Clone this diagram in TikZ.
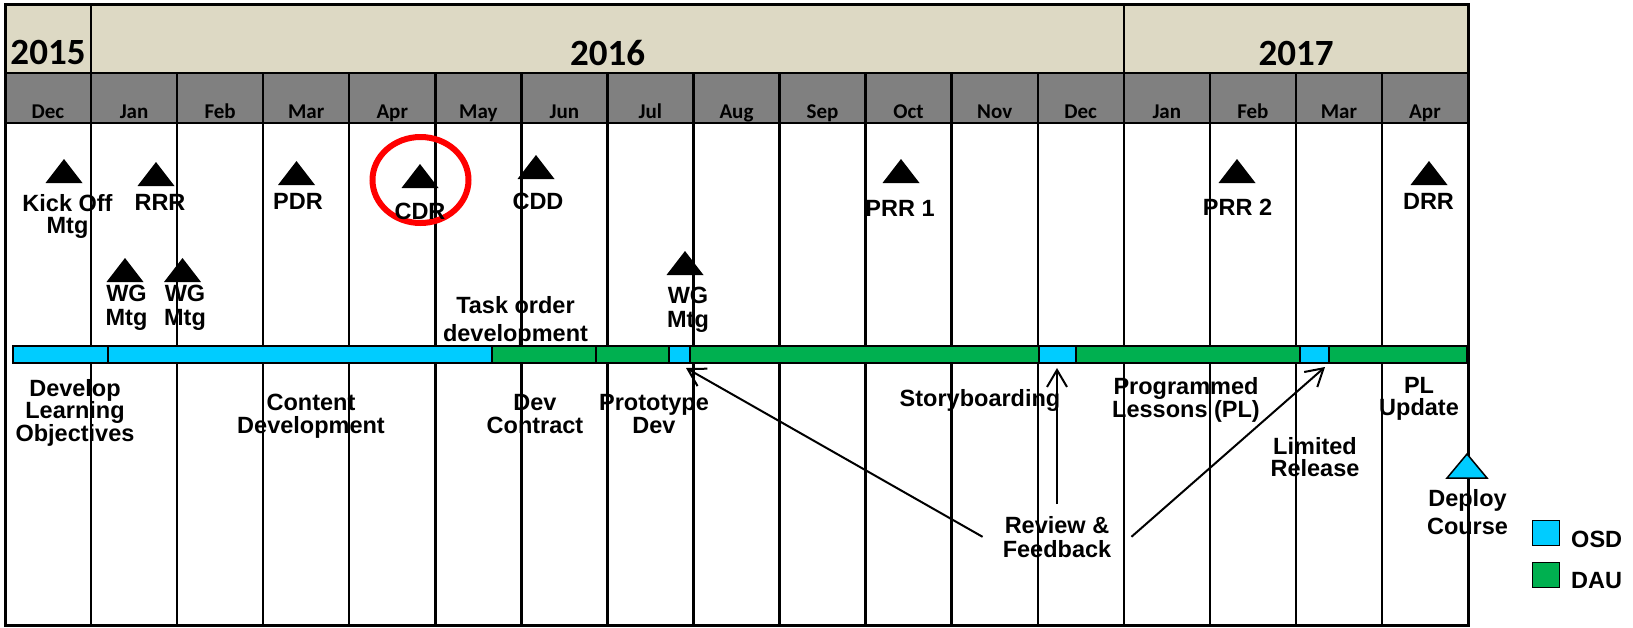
\documentclass[tikz,border=0pt]{standalone}
\usepackage{fontspec}
\setmainfont{Liberation Sans}
\newfontfamily\calibri{Carlito}
\usepackage{tikz}
\usetikzlibrary{arrows.meta,calc}

\definecolor{osd}{RGB}{0,204,255}
\definecolor{dau}{RGB}{0,176,80}
\definecolor{yearbg}{RGB}{221,217,196}
\definecolor{monthbg}{RGB}{128,128,128}

\tikzset{
  lbl/.style={font=\fontsize{23.5}{22}\selectfont\bfseries, align=center, inner sep=0pt, anchor=north},
  mon/.style={font=\calibri\fontsize{21}{21}\selectfont\bfseries, inner sep=0pt, anchor=base},
  yr/.style={font=\calibri\fontsize{37}{37}\selectfont\bfseries, inner sep=0pt, anchor=base},
  seg/.style={draw, line width=2pt, minimum height=17pt, inner sep=0pt, outer sep=0pt, anchor=west},
  key/.style={draw, line width=1.8pt, minimum width=27pt, minimum height=25pt, inner sep=0pt},
  fb/.style={-{Straight Barb[length=17pt,width=20pt]}, line width=2pt},
}

\begin{document}
\begin{tikzpicture}[x=1pt,y=-1pt]
\useasboundingbox (0,0) rectangle (1633,627);
\fill[yearbg] (5,4) rectangle (1468,73);
\fill[monthbg] (5,73) rectangle (1468,123);
\foreach \k in {1,...,16}
  \draw[line width=2.4pt] ({5+86.06*\k},73) -- ({5+86.06*\k},625);
\draw[line width=2.4pt] (91.06,4) -- (91.06,73) (1123.7,4) -- (1123.7,73);
\draw[line width=2.4pt] (5,73) -- (1468,73) (5,123) -- (1468,123);
\draw[line width=3pt] (5,4) rectangle (1468,625);

\foreach \m [count=\i from 0] in {Dec,Jan,Feb,Mar,Apr,May,Jun,Jul,Aug,Sep,Oct,Nov,Dec,Jan,Feb,Mar,Apr}
  \node[mon] (m\i) at ({48+86.06*\i},118) {\m};
\node[yr] (y15) at (48,64) {2015};
\node[yr] (y16) at (607.5,65) {2016};
\node[yr] (y17) at (1296,65) {2017};

\foreach \a/\b/\c/\n in {12.5/108/osd/s1, 108/491.6/osd/s2, 491.6/595.7/dau/s3,
    595.7/668.6/dau/s4, 668.6/689.5/osd/s5, 689.5/1039.4/dau/s6, 1039.4/1075.9/osd/s7,
    1075.9/1299.8/dau/s8, 1299.8/1329/osd/s9, 1329/1466.5/dau/s10}
  \node[seg, fill=\c, minimum width={(\b-\a)*1pt}] (\n) at (\a,354.5) {};

\foreach \x/\y in {64/183, 156/186, 296.5/185, 420/188, 536/179, 125/282,
    182.5/282, 685/275, 901/183, 1237/183, 1429/185}
  \fill (\x-18.5,\y) -- (\x,\y-24) -- (\x+18.5,\y) -- cycle;
\filldraw[fill=osd, line width=1.5pt] (1447,478) -- (1467,454) -- (1487,478) -- cycle;
\draw[red, line width=6pt] (420.5,180) ellipse [x radius=48, y radius=43];

\node[lbl] (kick) at (67.5,194) {Kick Off\\Mtg};
\node[lbl] (rrr) at (160,194) {RRR};
\node[lbl] (pdr) at (298,193) {PDR};
\node[lbl] (cdr) at (420,203) {CDR};
\node[lbl] (cdd) at (538,193) {CDD};
\node[lbl] (wg1) at (126.5,285) {WG\\[2pt]Mtg};
\node[lbl] (wg2) at (185,285) {WG\\[2pt]Mtg};
\node[lbl] (wg3) at (688,287) {WG\\[2pt]Mtg};
\node[lbl] (task) at (515.5,296) {Task order\\[6pt]development};
\node[lbl] (prr1) at (900,200) {PRR 1};
\node[lbl] (prr2) at (1237.5,199) {PRR 2};
\node[lbl] (drr) at (1428.5,193) {DRR};
\node[lbl] (dlo) at (75,379) {Develop\\Learning\\Objectives};
\node[lbl] (cont) at (311,394) {Content\\[1pt]Development};
\node[lbl] (devc) at (535,394) {Dev\\[1pt]Contract};
\node[lbl] (proto) at (654,394) {Prototype\\[1pt]Dev};
\node[lbl] (story) at (980,389) {Storyboarding};
\node[lbl] (prog) at (1186,377) {Programmed\\Lessons (PL)};
\node[lbl] (plup) at (1419,377) {PL\\Update};
\node[lbl] (lim) at (1315,437) {Limited\\Release};
\node[lbl] (deploy) at (1467.5,489) {Deploy\\[6pt]Course};
\node[lbl, inner xsep=20pt, inner ysep=12pt] (review) at (1057,504) {Review \&\\[2pt]Feedback};

\draw[fb] (review.west) -- ($(s5.south east)+(-3.5,5)$);
\draw[fb] (review.north) -- ($(review.north |- s7.south)+(0,5)$);
\draw[fb] (review.east) -- ($(s9.south east)+(-4,4)$);

\node[key, fill=osd] (osdkey) at (1546,533) {};
\node[key, fill=dau] (daukey) at (1546,575) {};
\node[lbl, anchor=base west] (osdtxt) at (1571,547) {OSD};
\node[lbl, anchor=base west] (dautxt) at (1571,588) {DAU};
\end{tikzpicture}
\end{document}
